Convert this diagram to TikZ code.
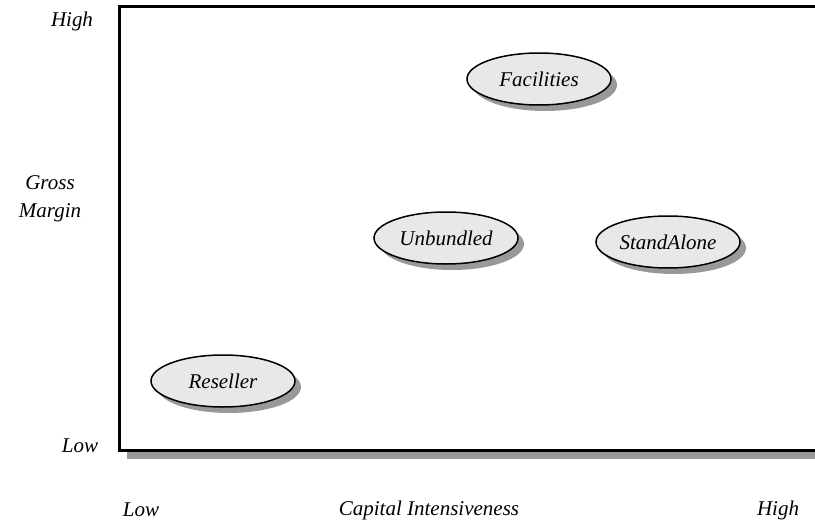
\documentclass[tikz,border=0pt]{standalone}
\usepackage{fontspec}
\setmainfont{Liberation Serif}
\usetikzlibrary{shapes.geometric,shadows}
\definecolor{shadowgray}{HTML}{999999}
\definecolor{ovalfill}{HTML}{E8E8E8}
\begin{document}
\begin{tikzpicture}[x=1pt,y=-1pt,
  oval/.style={ellipse, draw=black, line width=1.5pt, fill=ovalfill,
    minimum width=144pt, minimum height=52pt, inner sep=0pt,
    font=\fontsize{21}{28}\selectfont\itshape,
    general shadow={fill=shadowgray, shadow xshift=6pt, shadow yshift=-6pt}},
  lbl/.style={font=\fontsize{21}{28}\selectfont\itshape, inner sep=0pt, align=center}]
\useasboundingbox (0,0) rectangle (815,525);
% frame shadow
\fill[shadowgray] (127,452) rectangle (815,459);
% frame
\coordinate (tr) at (815,6.5);
\coordinate (tl) at (119.5,6.5);
\coordinate (bl) at (119.5,450.5);
\coordinate (br) at (815,450.5);
\draw[line width=2.6pt] (tr) -- (tl) -- (bl) -- (br);
% ovals
\node[oval] (fac) at (539,79) {Facilities};
\node[oval] (unb) at (446,238) {Unbundled};
\node[oval] (sta) at (668,242) {StandAlone};
\node[oval] (res) at (223,381) {Reseller};
% axis labels
\node[lbl] (yhigh) at (72,21) {High};
\node[lbl] (ylab) at (50,199) {Gross\\Margin};
\node[lbl] (ylow) at (80,446) {Low};
\node[lbl] (xlow) at (141,510) {Low};
\node[lbl] (xlab) at (429,510) {Capital Intensiveness};
\node[lbl] (xhigh) at (778,510) {High};
\end{tikzpicture}
\end{document}
